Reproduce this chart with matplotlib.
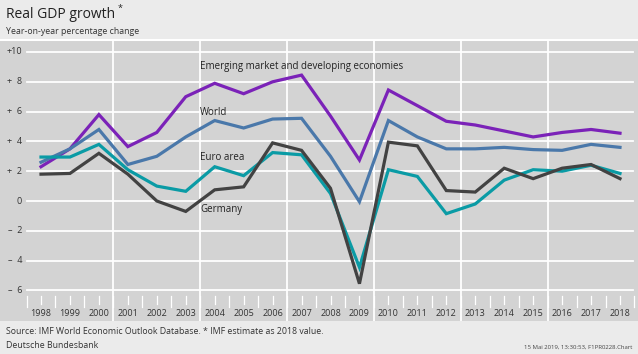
import numpy as np
import matplotlib.pyplot as plt
import matplotlib.transforms as mtransforms

plt.rcParams['font.family'] = ['Open Sans', 'DejaVu Sans']

years = np.arange(1998, 2019)
emde = [2.3, 3.5, 5.8, 3.65, 4.6, 7.0, 7.9, 7.2, 8.0, 8.45, 5.7, 2.75,
        7.45, 6.4, 5.35, 5.1, 4.7, 4.3, 4.6, 4.8, 4.55]
world = [2.6, 3.5, 4.8, 2.45, 3.0, 4.3, 5.4, 4.9, 5.5, 5.55, 3.0, -0.05,
         5.4, 4.3, 3.5, 3.5, 3.6, 3.45, 3.4, 3.8, 3.6]
euro = [2.95, 2.95, 3.8, 2.1, 1.0, 0.65, 2.3, 1.7, 3.25, 3.1, 0.5, -4.45,
        2.1, 1.65, -0.85, -0.2, 1.4, 2.1, 2.0, 2.4, 1.85]
germany = [1.8, 1.85, 3.2, 1.8, 0.0, -0.7, 0.75, 0.95, 3.9, 3.4, 0.85, -5.55,
           3.95, 3.7, 0.7, 0.6, 2.2, 1.5, 2.2, 2.45, 1.5]

yticks = [10, 8, 6, 4, 2, 0, -2, -4, -6]
ytick_labels = ['+10', '+  8', '+  6', '+  4', '+  2', '0', '–  2', '–  4', '–  6']

series = [
    (emde, '#7b22b8', 'Emerging market and developing economies', 9.05),
    (world, '#4a78aa', 'World', 5.95),
    (euro, '#0a9ba5', 'Euro area', 2.9),
    (germany, '#424242', 'Germany', -0.6),
]

W, H = 638, 354
fig = plt.figure(figsize=(W / 100, H / 100), dpi=100)
fig.patch.set_facecolor('#ebebeb')

# plot panel (gray box) from y=41 to y=321 px
top_px, bot_px = 41, 321
ax = fig.add_axes([0, 1 - bot_px / H, 1, (bot_px - top_px) / H])
ax.set_facecolor('#d3d3d3')
for s in ax.spines.values():
    s.set_visible(False)
ax.set_xticks([])
ax.set_yticks([])

px_per_year = 28.95
x0 = 1998 - 41 / px_per_year
ax.set_xlim(x0, x0 + W / px_per_year)
px_per_unit = 14.9
ax.set_ylim((201 - bot_px) / px_per_unit, (201 - top_px) / px_per_unit)

# horizontal grid
for v in yticks:
    ax.plot([1997.5, 2018.45], [v, v], color='white', lw=1.3, zorder=1)
# vertical separators
for b in [2000.5, 2003.5, 2006.5, 2009.5, 2012.5, 2015.5]:
    ax.axvline(b, color='white', lw=1.3, zorder=1)

# y labels
tr = mtransforms.blended_transform_factory(fig.transFigure, ax.transData)
for v, lab in zip(yticks, ytick_labels):
    ax.text(22 / W, v, lab, transform=tr, ha='right', va='center',
            fontsize=6.5, color='#333333')

# x ticks and labels
tick_top = (201 - 296) / px_per_unit
for yr in years:
    ax.plot([yr - 0.5, yr - 0.5], [tick_top, tick_top - 0.75], color='white', lw=0.9, zorder=1)
    ax.plot([yr, yr], [tick_top, tick_top - 0.55], color='white', lw=0.9, zorder=1)
    ax.text(yr, (201 - 313) / px_per_unit, str(yr), ha='center', va='center',
            fontsize=6.5, color='#333333')
ax.plot([2018.5, 2018.5], [tick_top, tick_top - 0.75], color='white', lw=0.9, zorder=1)

label_x = x0 + 200 / px_per_year
for vals, col, lab, ly in series:
    ax.plot(years, vals, color=col, lw=2.3, zorder=3, solid_joinstyle='miter')
    ax.text(label_x, ly, lab, fontsize=7, color='#222222', va='center',
            ha='left', zorder=4)

# separator line under the title block
fig.add_artist(plt.Line2D([0, 1], [1 - 40 / H, 1 - 40 / H], color='white', lw=1.5,
                          transform=fig.transFigure))

fig.text(6 / W, 1 - 15 / H, 'Real GDP growth', fontsize=10, color='#222222',
         va='center', ha='left')
fig.text(118 / W, 1 - 8 / H, '*', fontsize=6.5, color='#222222', va='center', ha='left')
fig.text(6 / W, 1 - 32 / H, 'Year-on-year percentage change', fontsize=6.3,
         color='#333333', va='center', ha='left')

fig.text(6 / W, 1 - 332 / H,
         'Source: IMF World Economic Outlook Database. * IMF estimate as 2018 value.',
         fontsize=6.3, color='#333333', va='center', ha='left')
fig.text(6 / W, 1 - 346 / H, 'Deutsche Bundesbank', fontsize=6.3, color='#333333',
         va='center', ha='left')
fig.text(632 / W, 1 - 347 / H, '15 Mai 2019, 13:30:53, F1PR0228.Chart', fontsize=4.3,
         color='#444444', va='center', ha='right')

fig.savefig('out.png', dpi=100, facecolor=fig.get_facecolor())
